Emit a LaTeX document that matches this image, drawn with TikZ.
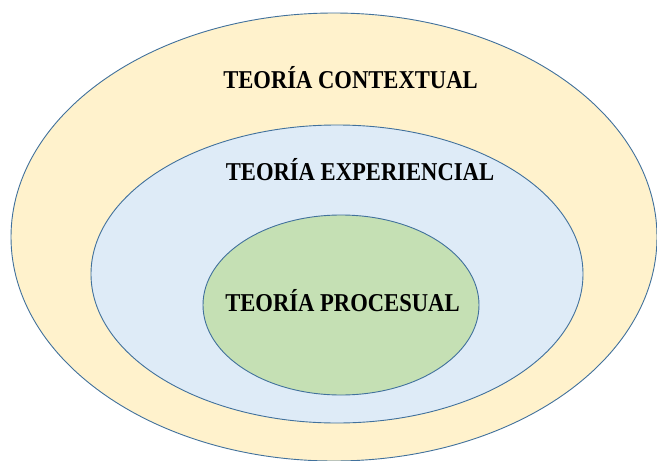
\documentclass[tikz,border=0pt]{standalone}
\usepackage{fontspec}
\usepackage{tikz}
\usetikzlibrary{shapes.geometric}
\newfontfamily\teofont[FakeStretch=0.88]{Liberation Serif}
\definecolor{ctxfill}{HTML}{FFF2CC}
\definecolor{expfill}{HTML}{DEEBF7}
\definecolor{procfill}{HTML}{C5E0B4}
\definecolor{rim}{HTML}{41719C}

\begin{document}
\begin{tikzpicture}[x=1pt,y=-1pt,
    ring/.style={ellipse,draw=rim,line width=0.9pt,inner sep=0pt,outer sep=0pt},
    teo/.style={anchor=base,inner sep=0pt,font=\teofont\bfseries\fontsize{25.7}{30}\selectfont}]
    \useasboundingbox (0,0) rectangle (657,461);
    \node[ring,fill=ctxfill,minimum width=646pt,minimum height=448pt] (ctx) at (334,237) {};
    \node[ring,fill=expfill,minimum width=492pt,minimum height=298pt] (exp) at (337,274) {};
    \node[ring,fill=procfill,minimum width=276pt,minimum height=180pt] (proc) at (341,305) {};
    \node[teo] (ctxlbl) at (350.5,88) {TEORÍA CONTEXTUAL};
    \node[teo] (explbl) at (360,180) {TEORÍA EXPERIENCIAL};
    \node[teo] (proclbl) at (342.5,311.5) {TEORÍA PROCESUAL};
  \end{tikzpicture}
\end{document}
